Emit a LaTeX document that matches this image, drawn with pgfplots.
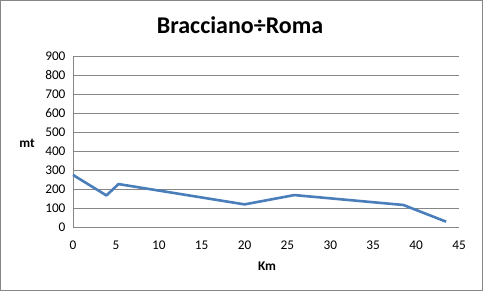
\documentclass[border=0pt]{standalone}
\usepackage{pgfplots}
\pgfplotsset{compat=1.18}
\usepackage{fontspec}
\setmainfont{Carlito}
\definecolor{lineblue}{RGB}{74,126,187}
\definecolor{gridgray}{RGB}{134,134,134}
\begin{document}
\begin{tikzpicture}[x=1bp,y=1bp]
\draw[gridgray,line width=1bp] (0.5,0.5) rectangle (482.5,290.5);
\node[anchor=base,font=\fontsize{24bp}{26bp}\selectfont\bfseries] at (240,258) {Bracciano÷Roma};
\node[font=\fontsize{13.3bp}{15bp}\selectfont\bfseries] at (27,148) {mt};
\node[font=\fontsize{13.3bp}{15bp}\selectfont\bfseries] at (267,25) {Km};
\begin{axis}[
  at={(73bp,64bp)}, anchor=south west,
  scale only axis, width=386bp, height=171bp,
  xmin=0, xmax=45, ymin=0, ymax=900,
  xtick={0,5,...,45}, ytick={0,100,...,900},
  ymajorgrids, grid style={gridgray, line width=0.75bp},
  axis lines*=left,
  axis line style={gridgray, line width=0.75bp, -},
  tick style={draw=none},
  /pgf/number format/assume math mode=true,
  tick label style={font=\fontsize{13.3bp}{15bp}\selectfont},
  xticklabel style={anchor=center, yshift=-18bp},
  yticklabel style={xshift=-4bp},
  clip=false,
]
\addplot[lineblue, line width=2.6bp, line join=round] coordinates {
(0,274) (3.9,166) (5.3,226) (20,119) (25.8,168) (38.5,116) (43.5,28)
};
\end{axis}
\end{tikzpicture}
\end{document}
